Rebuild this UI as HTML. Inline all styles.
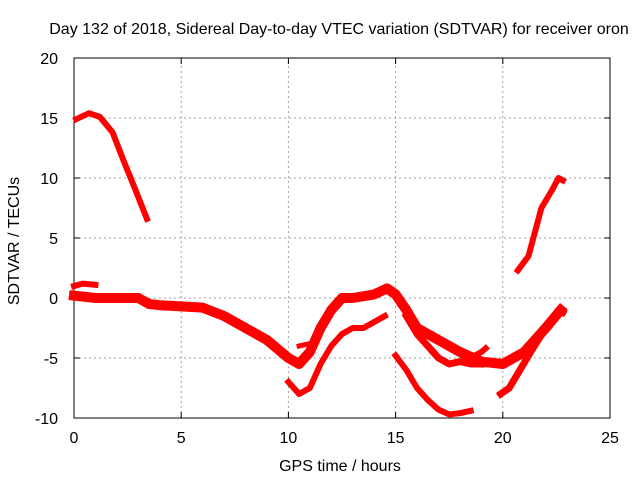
<!DOCTYPE html>
<html><head><meta charset="utf-8"><style>
body{margin:0;background:#fff;}
svg text{font-family:"Liberation Sans",sans-serif;font-size:16px;fill:#000;}
</style></head><body>
<svg width="640" height="480" xmlns="http://www.w3.org/2000/svg">
<text x="339" y="34" text-anchor="middle">Day 132 of 2018, Sidereal Day-to-day VTEC variation (SDTVAR) for receiver oron</text>
<g id="grid"></g>
<g id="axes"></g>
<g id="series"></g>
<text x="340" y="471" text-anchor="middle">GPS time / hours</text>
<text transform="translate(19,241) rotate(-90)" text-anchor="middle">SDTVAR / TECUs</text>
</svg>
<script>
const xTicks=[0,5,10,15,20,25];
const yTicks=[-10,-5,0,5,10,15,20];
const segA_x=[0.1,0.7,1.2,1.8,2.3,2.8,3.2,3.4];
const segA_y=[14.9,15.4,15.1,13.8,11.5,9.3,7.5,6.6];
const segB_x=[0,1,2,3,3.5,4,5,6,7,8,9,10,10.5,11,11.5,12,12.5,13,14,14.6,15,15.5,16,17,18,19,20,21,22,22.7];
const segB_y=[0.2,0,0,0,-0.5,-0.6,-0.7,-0.8,-1.5,-2.5,-3.5,-5,-5.5,-4.5,-2.5,-1,0,0,0.3,0.8,0.3,-1,-2.5,-3.5,-4.5,-5.3,-5.5,-4.5,-2.5,-1];
const segB2_x=[0,0.4,1];
const segB2_y=[1,1.2,1.1];
const segC_x=[10,10.5,11,11.5,12,12.5,13,13.5,14,14.5];
const segC_y=[-7,-8,-7.5,-5.5,-4,-3,-2.5,-2.5,-2,-1.5];
const segC2_x=[10.5,11];
const segC2_y=[-4,-3.8];
const segD_x=[15,15.5,16,16.5,17,17.5,18,18.5];
const segD_y=[-4.8,-6,-7.5,-8.5,-9.3,-9.7,-9.6,-9.4];
const segE_x=[15.5,16,16.5,17,17.5,18,18.5,19];
const segE_y=[-1.5,-3,-4,-5,-5.5,-5.3,-5.5,-5.5];
const segE2_x=[16.5,17,17.5,18,18.5,19,19.2];
const segE2_y=[-3,-3.5,-4,-4.5,-5,-4.5,-4.2];
const segF_x=[19.9,20.3,20.8,21.3,22,22.6,22.8];
const segF_y=[-8,-7.5,-6,-4.5,-2.5,-1,-1.2];
const segG_x=[20.7,21.2,21.5,21.8,22.3,22.6,22.8];
const segG_y=[2.3,3.5,5.5,7.5,9,10,9.8];

const X0=74,X1=610,Y0=418,Y1=58;
const sx=v=>X0+(v-0)/(25-0)*(X1-X0);
const sy=v=>Y0-(v+10)/30*(Y0-Y1);
const NS="http://www.w3.org/2000/svg";
function mk(t,a,p){const e=document.createElementNS(NS,t);for(const k in a)e.setAttribute(k,a[k]);p.appendChild(e);return e;}
const grid=document.getElementById('grid'),axes=document.getElementById('axes'),ser=document.getElementById('series');
xTicks.forEach(t=>{
  if(t>0&&t<25){const l=mk('line',{x1:sx(t),x2:sx(t),y1:Y0,y2:Y1,stroke:'#a0a0a0','stroke-dasharray':'2,3'},grid);
  
  }
  mk('line',{x1:sx(t),x2:sx(t),y1:Y0,y2:Y0-6,stroke:'#000'},axes);
  mk('line',{x1:sx(t),x2:sx(t),y1:Y1,y2:Y1+6,stroke:'#000'},axes);
  const tx=mk('text',{x:sx(t),y:Y0+25,'text-anchor':'middle'},axes);tx.textContent=t;
  
  
});
yTicks.forEach(t=>{
  if(t>-10&&t<20){const l=mk('line',{x1:X0,x2:X1,y1:sy(t),y2:sy(t),stroke:'#a0a0a0','stroke-dasharray':'2,3'},grid);
  
  }
  mk('line',{x1:X0,x2:X0+6,y1:sy(t),y2:sy(t),stroke:'#000'},axes);
  mk('line',{x1:X1,x2:X1-6,y1:sy(t),y2:sy(t),stroke:'#000'},axes);
  const tx=mk('text',{x:X0-16,y:sy(t)+6,'text-anchor':'end'},axes);tx.textContent=t;
  
  
});
mk('rect',{x:X0,y:Y1,width:X1-X0,height:Y0-Y1,fill:'none',stroke:'#000'},axes);
const segs=[[segA_x,segA_y,6],[segB_x,segB_y,10],[segB2_x,segB2_y,6],[segC_x,segC_y,6],[segC2_x,segC2_y,5],[segD_x,segD_y,6],[segE_x,segE_y,7],[segE2_x,segE2_y,6],[segF_x,segF_y,7],[segG_x,segG_y,6]];
segs.forEach(([xs,ys,w],i)=>{
  const p=mk('polyline',{points:xs.map((x,j)=>sx(x)+','+sy(ys[j])).join(' '),fill:'none',stroke:'#ff0000','stroke-width':w,'stroke-linejoin':'round','stroke-linecap':'square'},ser);
  
  
});
</script>
</body></html>
